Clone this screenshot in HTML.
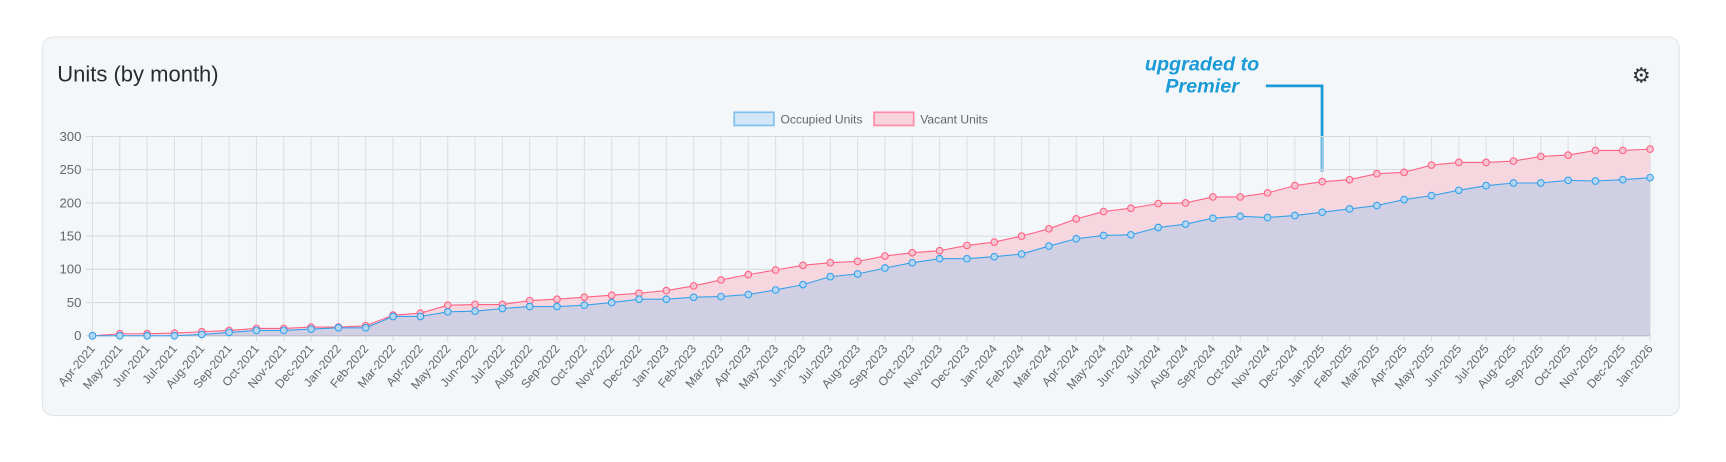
<!DOCTYPE html>
<html><head><meta charset="utf-8"><style>
body{margin:0;background:#fff;width:1726px;height:457px;overflow:hidden;font-family:"Liberation Sans",sans-serif}
</style></head><body>
<svg id="s" width="1726" height="457" xmlns="http://www.w3.org/2000/svg" font-family="Liberation Sans, sans-serif">
<g transform="scale(1.1008)">
<rect x="38.5" y="33.5" width="1487" height="344" rx="10" fill="#f4f7fa" stroke="#e0e4e8"/>
<text x="52" y="74" font-size="20" fill="#2b2b2b">Units (by month)</text>
<text x="1092" y="64" font-size="18" font-weight="bold" font-style="italic" fill="#1a9ad6" text-anchor="middle">upgraded to</text>
<text x="1092" y="84" font-size="18" font-weight="bold" font-style="italic" fill="#1a9ad6" text-anchor="middle">Premier</text>
<polyline points="1150,78 1201,78 1201,156" fill="none" stroke="#1a9ad6" stroke-width="2.5"/>
<text x="1491" y="75" font-size="19" fill="#333" text-anchor="middle">⚙</text>
<rect x="667" y="102" width="36" height="12" fill="#d1e6f8" stroke="#7fbfee" stroke-width="1.5"/>
<text x="709" y="112" font-size="11" fill="#666">Occupied Units</text>
<rect x="794" y="102" width="36" height="12" fill="#f9d3dc" stroke="#ff8aa4" stroke-width="1.5"/>
<text x="836" y="112" font-size="11" fill="#666">Vacant Units</text>
<g id="g"></g>
</g>
</svg>
<script>
var occ=[0,0,0,0,2,5,8,8,10,12,12,29,29,36,37,41,44,44,46,50,55,55,58,59,62,69,77,89,93,102,110,116,116,119,123,135,146,151,152,163,168,177,180,178,181,186,191,196,205,211,219,226,230,230,234,233,235,238];
var tot=[0,3,3,4,6,8,11,11,13,13,15,31,34,46,47,47,53,55,58,61,64,68,75,84,92,99,106,110,112,120,125,128,136,141,150,161,176,187,192,199,200,209,209,215,226,232,235,244,246,257,261,261,263,270,272,279,279,281];
var m=["Jan","Feb","Mar","Apr","May","Jun","Jul","Aug","Sep","Oct","Nov","Dec"];
var x0=84,x1=1499,y0=305,y3=124,n=58,dx=(x1-x0)/(n-1);
function X(i){return x0+i*dx}function Y(v){return y0-(y0-y3)*v/300}
var h="";
for(var k=0;k<=6;k++){var y=Y(k*50);h+='<line x1="78" x2="'+x1+'" y1="'+y+'" y2="'+y+'" stroke="#d6d9de"/>';h+='<text x="74" y="'+(y+4)+'" font-size="12" fill="#666" text-anchor="end">'+(k*50)+'</text>';}
for(var i=0;i<n;i++){var x=X(i);h+='<line x1="'+x+'" x2="'+x+'" y1="'+y3+'" y2="'+(y0+5)+'" stroke="#dcdfe3"/>';
var mi=(3+i)%12,yr=2021+Math.floor((3+i)/12);
h+='<text transform="translate('+(x+3)+','+(y0+12)+') rotate(-50)" font-size="11" fill="#666" text-anchor="end">'+m[mi]+'-'+yr+'</text>';}
var pt=tot.map(function(v,i){return X(i)+','+Y(v)}).join(' ');
var po=occ.map(function(v,i){return X(i)+','+Y(v)}).join(' ');
h+='<polygon points="'+pt+' '+x1+','+y0+' '+x0+','+y0+'" fill="#f6d7e0"/>';
h+='<polygon points="'+po+' '+x1+','+y0+' '+x0+','+y0+'" fill="#d1cfe3"/>';
h+='<line x1="'+x0+'" x2="'+x1+'" y1="'+y0+'" y2="'+y0+'" stroke="#b8b8c8"/>';
h+='<polyline points="'+pt+'" fill="none" stroke="#ff6384" stroke-width="1"/>';
h+='<polyline points="'+po+'" fill="none" stroke="#36a2eb" stroke-width="1"/>';
for(var i=0;i<n;i++){h+='<circle cx="'+X(i)+'" cy="'+Y(tot[i])+'" r="3" fill="#f7c5d1" stroke="#ff6384"/>';}
for(var i=0;i<n;i++){h+='<circle cx="'+X(i)+'" cy="'+Y(occ[i])+'" r="3" fill="#b5d6f0" stroke="#36a2eb"/>';}
document.getElementById("g").innerHTML=h;
</script>
</body></html>
